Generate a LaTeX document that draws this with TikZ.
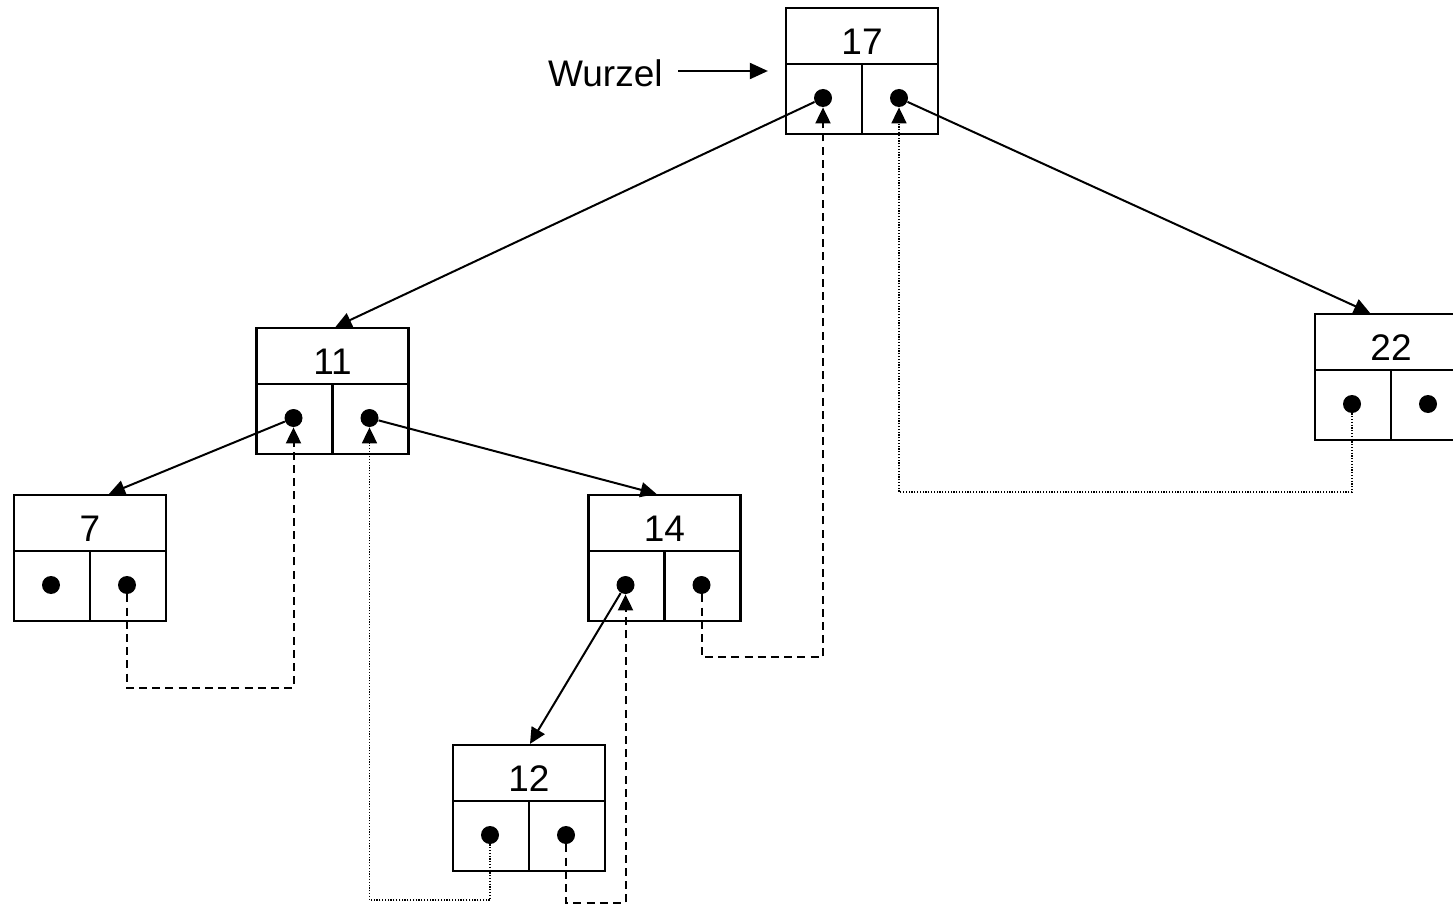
\documentclass[tikz,border=0pt]{standalone}
\usepackage{fontspec}
\setmainfont{Liberation Sans}
\usetikzlibrary{arrows.meta,calc}

\tikzset{
  cellbox/.style={draw, line width=1.1pt, minimum width=76pt, minimum height=63pt, inner sep=0pt},
  boxline/.style={line width=1.1pt},
  valtext/.style={inner sep=0pt, font=\fontsize{18.5}{20}\selectfont},
  ptr/.style={circle, fill=black, minimum size=9pt, inner sep=0pt},
  tip/.style={-{Triangle[length=8pt,width=7.5pt]}},
  link/.style={tip, line width=1pt},
  thread/.style={tip, line width=1pt, dash pattern=on 4pt off 2.6pt},
  weakthread/.style={tip, line width=0.9pt, dash pattern=on 0.6pt off 0.8pt},
}

% #1 name, #2/#3 centre, #4 key
\newcommand\listcell[4]{%
  \node[cellbox] (#1) at (#2,#3) {};
  \draw[boxline] ({#2-76},{#3-7}) -- ({#2+76},{#3-7});
  \draw[boxline] (#2,{#3-7}) -- (#2,{#3+63});
  \node[valtext] (#1v) at (#2,{#3-29}) {#4};
  \node[ptr] (#1l) at ({#2-39},{#3+27}) {};
  \node[ptr] (#1r) at ({#2+37},{#3+27}) {};
}

\begin{document}
\begin{tikzpicture}[x=0.5pt, y=-0.5pt]
  \useasboundingbox (0,0) rectangle (1453,904);
  \clip (0,0) rectangle (1453,904);

  \listcell{n17}{862}{71}{17}
  \listcell{n11}{332.5}{391}{11}
  \listcell{n22}{1391}{377}{22}
  \listcell{n7}{90}{558}{7}
  \listcell{n14}{664.5}{558}{14}
  \listcell{n12}{529}{808}{12}

  % root pointer
  \node[valtext, anchor=east] (root) at (663,73) {Wurzel};
  \draw[link, -{Triangle[length=9pt,width=8pt]}, shorten <=7.5pt, shorten >=8.5pt]
    (root.east |- n17.west) -- (n17.west);

  % child links
  \draw[link] (n17l) -- ($(n11.north)+(3,0)$);
  \draw[link] (n17r) -- ($(n22.north)+(-21,0)$);
  \draw[link] (n11l) -- ($(n7.north)+(19,0)$);
  \draw[link] (n11r) -- ($(n14.north)+(-8,0)$);
  \draw[link] (n14l) -- ($(n12.north)+(1,0)$);

  % threads back to the in-order successor
  \coordinate (row7) at (0,688);
  \coordinate (row14) at (0,657);
  \coordinate (row12r) at (0,903);
  \coordinate (row22) at (0,492);
  \coordinate (row12l) at (0,900);

  \draw[thread] (n7r) -- (n7r |- row7) -- (n11l |- row7) -- (n11l);
  \draw[thread] (n14r) -- (n14r |- row14) -- (n17l |- row14) -- (n17l);
  \draw[thread] (n12r) -- (n12r |- row12r) -- (n14l |- row12r) -- (n14l);
  \draw[weakthread] (n22l) -- (n22l |- row22) -- (n17r |- row22) -- (n17r);
  \draw[weakthread] (n12l) -- (n12l |- row12l) -- (n11r |- row12l) -- (n11r);
\end{tikzpicture}
\end{document}
